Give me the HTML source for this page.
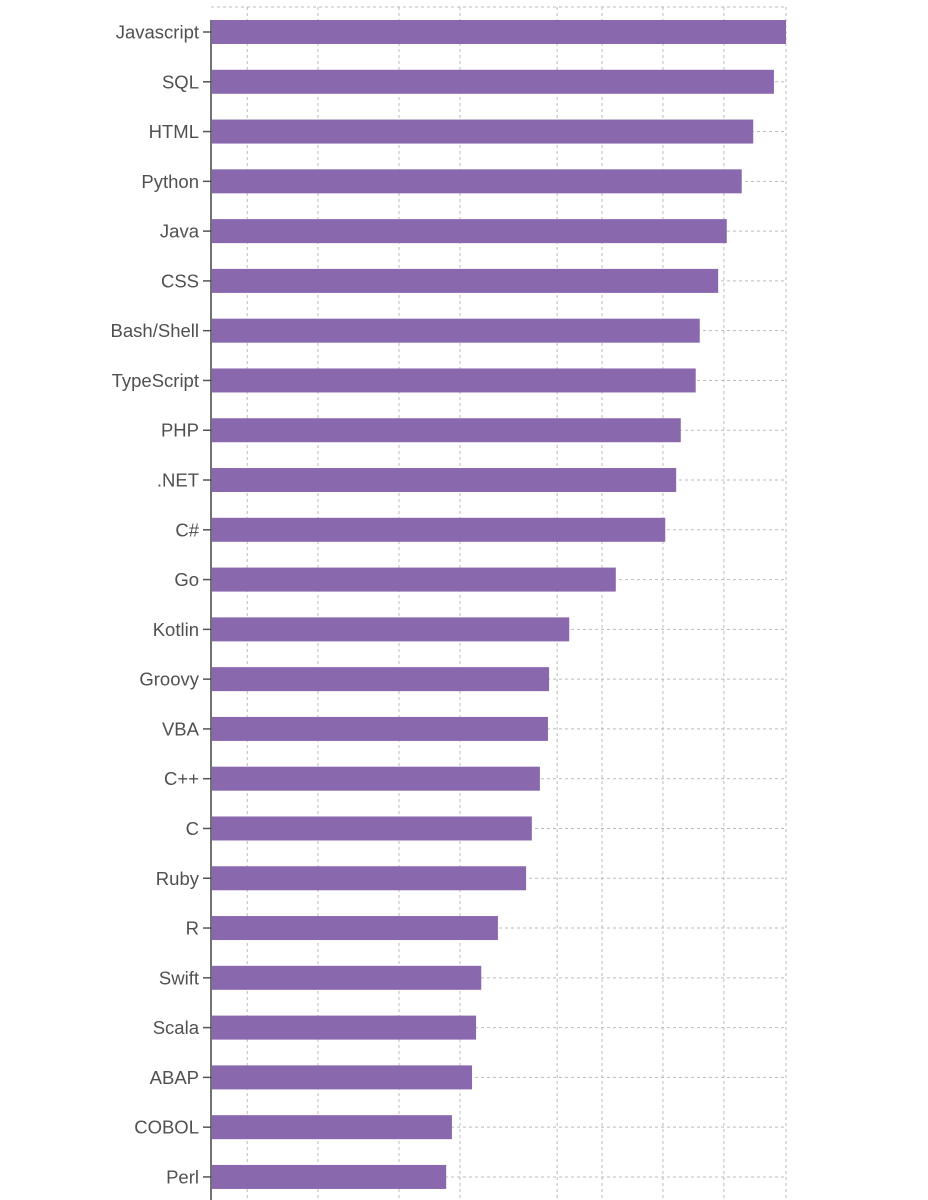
<!DOCTYPE html>
<html><head><meta charset="utf-8"><style>
html,body{margin:0;padding:0;background:#fff;}
svg{display:block;}
text{font-family:"Liberation Sans",sans-serif;font-size:18.5px;fill:#505050;}
</style></head><body>
<svg id="chart" width="928" height="1200" viewBox="0 0 928 1200" xmlns="http://www.w3.org/2000/svg"></svg>
<script>
const categories = ["Javascript","SQL","HTML","Python","Java","CSS","Bash/Shell","TypeScript","PHP",".NET","C#","Go","Kotlin","Groovy","VBA","C++","C","Ruby","R","Swift","Scala","ABAP","COBOL","Perl"];
const values = [100,97.9,94.3,92.3,89.7,88.2,85.0,84.3,81.7,80.9,79.0,70.4,62.3,58.8,58.6,57.2,55.8,54.8,49.9,47.0,46.1,45.4,41.9,40.9];
const gridValues = [6.3,18.6,32.7,43.3,60.2,68.0,78.6,89.2,100];

const NS = "http://www.w3.org/2000/svg";
const chartSvg = document.getElementById("chart");
const x0 = 211, x1 = 786, xMax = 100;
const y0 = 32, step = 49.78, barH = 24;
function xs(v){ return x0 + (v / xMax) * (x1 - x0); }
function ys(i){ return y0 + i * step; }
function mk(tag, attrs){ const e = document.createElementNS(NS, tag); for (const k in attrs) e.setAttribute(k, attrs[k]); chartSvg.appendChild(e); return e; }

const topBorder = mk("line",{x1:x0,y1:7,x2:x1,y2:7,stroke:"#bbb","stroke-dasharray":"3,3","stroke-width":1});



gridValues.forEach(function(g){
  const l = mk("line",{x1:xs(g),y1:7,x2:xs(g),y2:1200,stroke:"#bbb","stroke-dasharray":"3,3","stroke-width":1});
  
  
});
categories.forEach(function(c,i){
  const l = mk("line",{x1:x0,y1:ys(i),x2:x1,y2:ys(i),stroke:"#bbb","stroke-dasharray":"3,3","stroke-width":1});
  
  
});
categories.forEach(function(c,i){
  const r = mk("rect",{x:x0+1,y:ys(i)-barH/2,width:xs(values[i])-x0-1,height:barH,fill:"#8968ae"});
  
  
  const t = mk("line",{x1:203,y1:ys(i),x2:x0,y2:ys(i),stroke:"#555","stroke-width":1.5});
  
  
  const tx = mk("text",{x:199,y:ys(i)+6.5,"text-anchor":"end"});
  tx.textContent = c;
  
  
});
const ax = mk("line",{x1:x0,y1:20,x2:x0,y2:1200,stroke:"#444","stroke-width":1.5});


</script>
</body></html>
